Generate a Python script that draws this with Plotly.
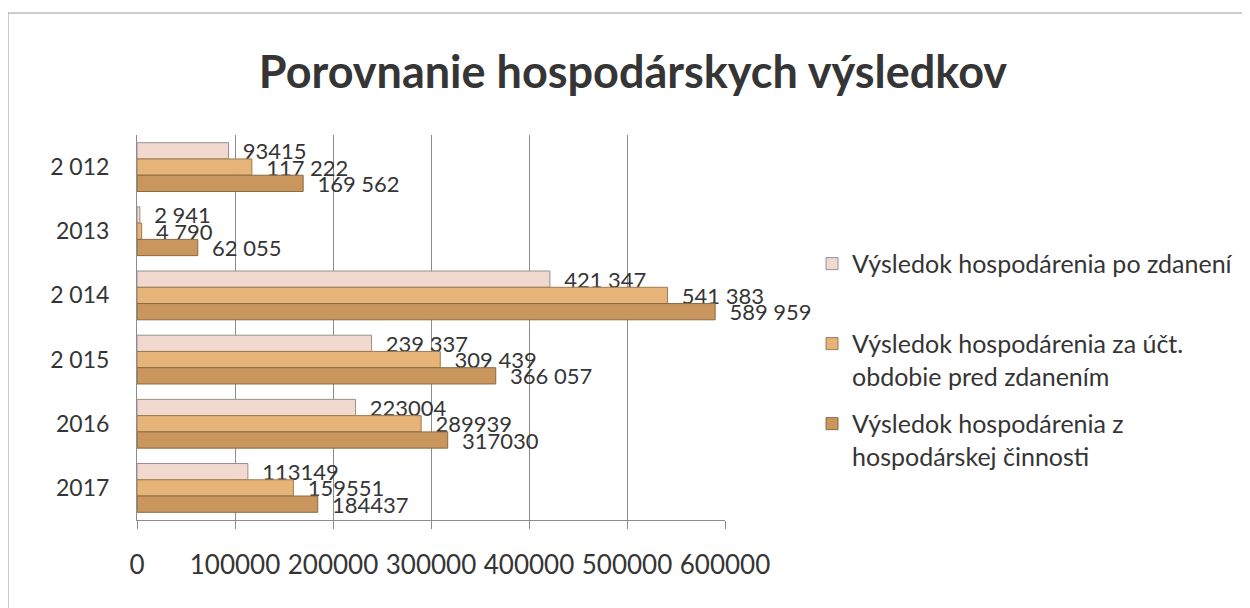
import plotly.graph_objects as go

# data
roky = ["2 012", "2013", "2 014", "2 015", "2016", "2017"]
po_zdaneni = [93415, 2941, 421347, 239337, 223004, 113149]
pred_zdanenim = [117222, 4790, 541383, 309439, 289939, 159551]
z_cinnosti = [169562, 62055, 589959, 366057, 317030, 184437]

popisky_po = ["93415", "2 941", "421 347", "239 337", "223004", "113149"]
popisky_pred = ["117 222", "4 790", "541 383", "309 439", "289939", "159551"]
popisky_z = ["169 562", "62 055", "589 959", "366 057", "317030", "184437"]

nazvy = [
    "Výsledok hospodárenia po zdanení<br> ",
    "Výsledok hospodárenia za účt.<br>obdobie pred zdanením",
    "Výsledok hospodárenia z<br>hospodárskej činnosti",
]
farby = ["#f1d9d0", "#e6b479", "#c9975e"]
obrysy = ["#9a8f8c", "#a07a4c", "#8a6a40"]

FONT = "Lato"
TXT = "#353535"

fig = go.Figure()
for i, (hodnoty, popisky, nazov, farba, obrys) in enumerate(zip(
        [po_zdaneni, pred_zdanenim, z_cinnosti],
        [popisky_po, popisky_pred, popisky_z], nazvy, farby, obrysy)):
    fig.add_trace(go.Bar(
        y=roky, x=hodnoty, name=nazov, orientation="h", legendgroup=f"g{i}",
        marker=dict(color=farba, line=dict(color=obrys, width=1)),
        text=["  " + p for p in popisky], textposition="outside",
        cliponaxis=False, constraintext="none",
        textfont=dict(family=FONT, size=22, color=TXT),
    ))

fig.update_layout(
    width=1250, height=608,
    paper_bgcolor="white", plot_bgcolor="white",
    margin=dict(l=129, r=533, t=127, b=96),
    barmode="group", bargap=0.24, bargroupgap=0,
    title=dict(text="<b>Porovnanie hospodárskych výsledkov</b>",
               x=0.50, xanchor="center", y=0.895, yanchor="middle",
               font=dict(family=FONT, size=45, color=TXT)),
    xaxis=dict(range=[0, 600000], tickvals=[0, 100000, 200000, 300000, 400000, 500000, 600000],
               ticktext=["0", "100000", "200000", "300000", "400000", "500000", "600000"],
               showgrid=True, gridcolor="#8c8c8c", gridwidth=1,
               showline=True, linecolor="#8c8c8c", zeroline=False,
               ticks="outside", ticklen=8, tickcolor="#8c8c8c",
               ticklabelstandoff=14,
               tickfont=dict(family=FONT, size=26, color=TXT)),
    yaxis=dict(autorange="reversed", showline=True, linecolor="#8c8c8c",
               ticks="", ticklabelstandoff=22,
               tickfont=dict(family=FONT, size=23, color=TXT)),
    legend=dict(x=1.148, xanchor="left", y=0.725, yanchor="top",
                traceorder="grouped", tracegroupgap=12, valign="top",
                bgcolor="rgba(0,0,0,0)",
                font=dict(family=FONT, size=25, color=TXT),
                itemwidth=30),
    showlegend=True,
)

# outer frame of the chart
fig.add_shape(type="rect", xref="paper", yref="paper",
              x0=(0 - 129) / 588, x1=(1250 - 129) / 588,
              y0=(512 - 608) / 385, y1=(512 - 5) / 385,
              line=dict(color="#9a9a9a", width=1))

fig.write_html("out.html")
